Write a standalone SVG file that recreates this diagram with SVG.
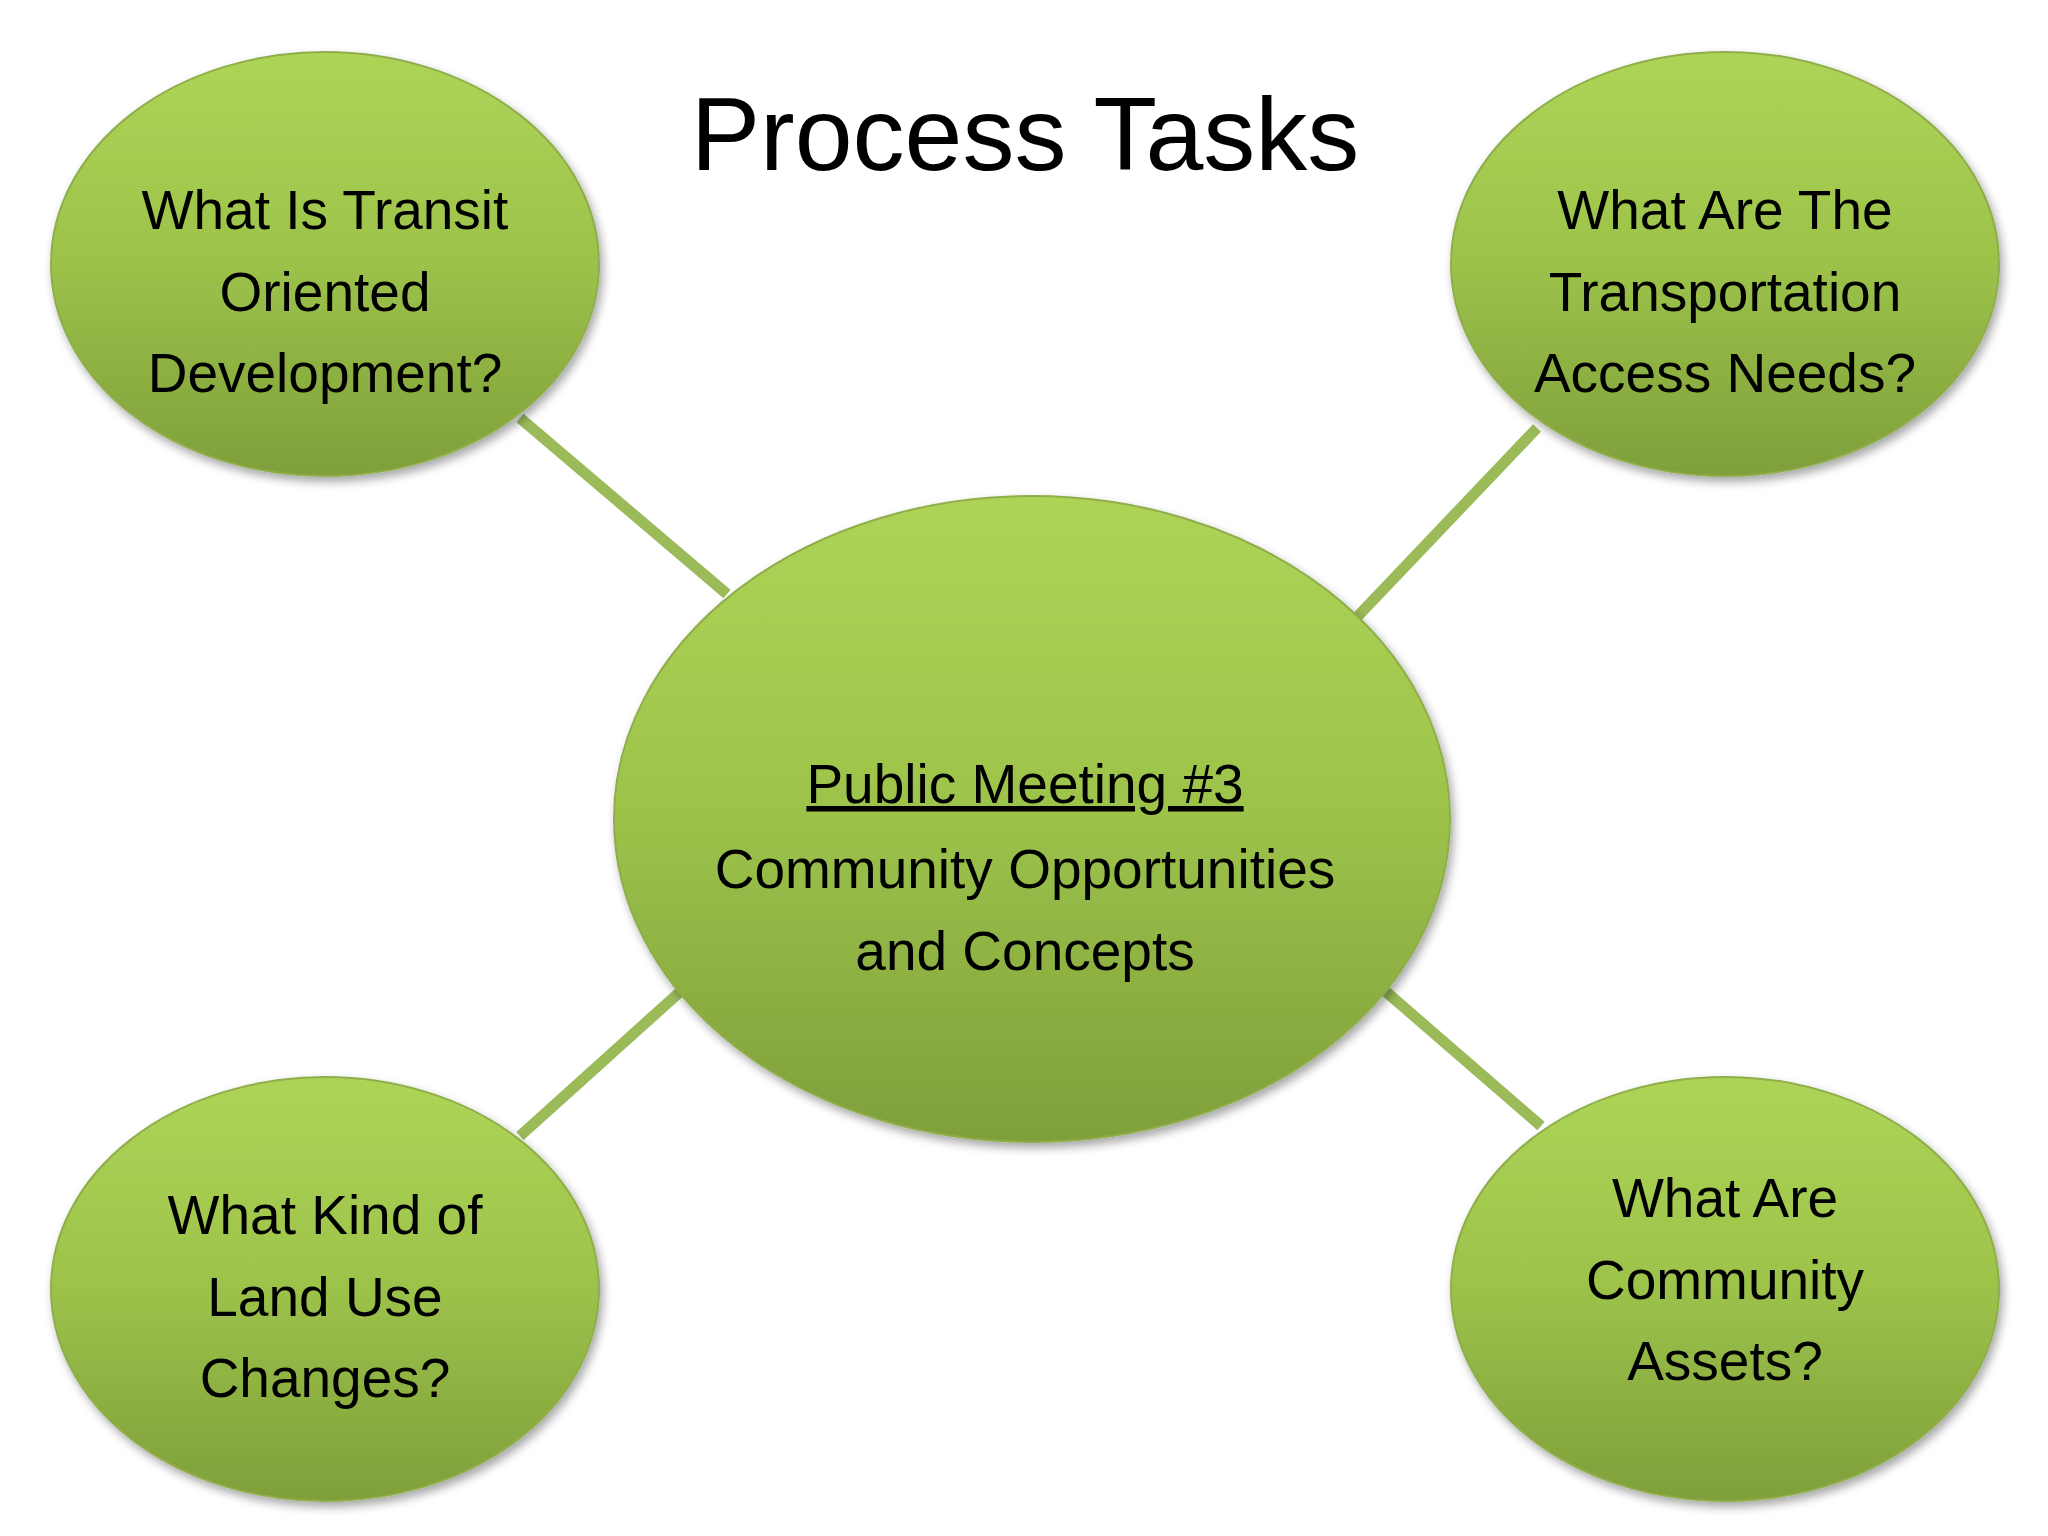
<svg xmlns="http://www.w3.org/2000/svg" width="2048" height="1536" viewBox="0 0 2048 1536">
<defs>
<linearGradient id="g" x1="0" y1="0" x2="0" y2="1">
<stop offset="0" stop-color="#aed457"/>
<stop offset="0.5" stop-color="#9cc24a"/>
<stop offset="1" stop-color="#7f9f3a"/>
</linearGradient>
<filter id="s" x="-10%" y="-10%" width="130%" height="130%"><feDropShadow dx="3" dy="5" stdDeviation="5" flood-opacity="0.35"/></filter>
</defs>
<style>
.n{fill:url(#g);stroke:#8fae4b;stroke-width:2;filter:url(#s)}
.t{font-family:"Liberation Sans",Arial,sans-serif;font-size:55px;fill:#000;text-anchor:middle}
.c{stroke:#9bbb59;stroke-width:11}
</style>
<rect width="2048" height="1536" fill="#fff"/>
<text x="1025" y="170" font-family="Liberation Sans,Arial,sans-serif" font-size="104" text-anchor="middle">Process Tasks</text>
<g id="connectors">
<line class="c" x1="520" y1="418" x2="727" y2="594"/>
<line class="c" x1="1537" y1="428" x2="1358" y2="616"/>
<line class="c" x1="520" y1="1136" x2="682" y2="990"/>
<line class="c" x1="1384" y1="990" x2="1541" y2="1126"/>
</g>
<g id="center">
<ellipse class="n" cx="1032" cy="819" rx="418" ry="323"/>
<text class="t" x="1025" y="803" font-size="64" text-decoration="underline">Public Meeting #3</text>
<text class="t" x="1025" y="888">Community Opportunities</text>
<text class="t" x="1025" y="970">and Concepts</text>
</g>
<g id="tl">
<ellipse class="n" cx="325" cy="264" rx="274" ry="212"/>
<text class="t" x="325" y="229">What Is Transit</text>
<text class="t" x="325" y="311">Oriented</text>
<text class="t" x="325" y="392">Development?</text>
</g>
<g id="tr">
<ellipse class="n" cx="1725" cy="264" rx="274" ry="212"/>
<text class="t" x="1725" y="229">What Are The</text>
<text class="t" x="1725" y="311">Transportation</text>
<text class="t" x="1725" y="392">Access Needs?</text>
</g>
<g id="bl">
<ellipse class="n" cx="325" cy="1289" rx="274" ry="212"/>
<text class="t" x="325" y="1234">What Kind of</text>
<text class="t" x="325" y="1316">Land Use</text>
<text class="t" x="325" y="1397">Changes?</text>
</g>
<g id="br">
<ellipse class="n" cx="1725" cy="1289" rx="274" ry="212"/>
<text class="t" x="1725" y="1217">What Are</text>
<text class="t" x="1725" y="1299">Community</text>
<text class="t" x="1725" y="1380">Assets?</text>
</g>
</svg>
